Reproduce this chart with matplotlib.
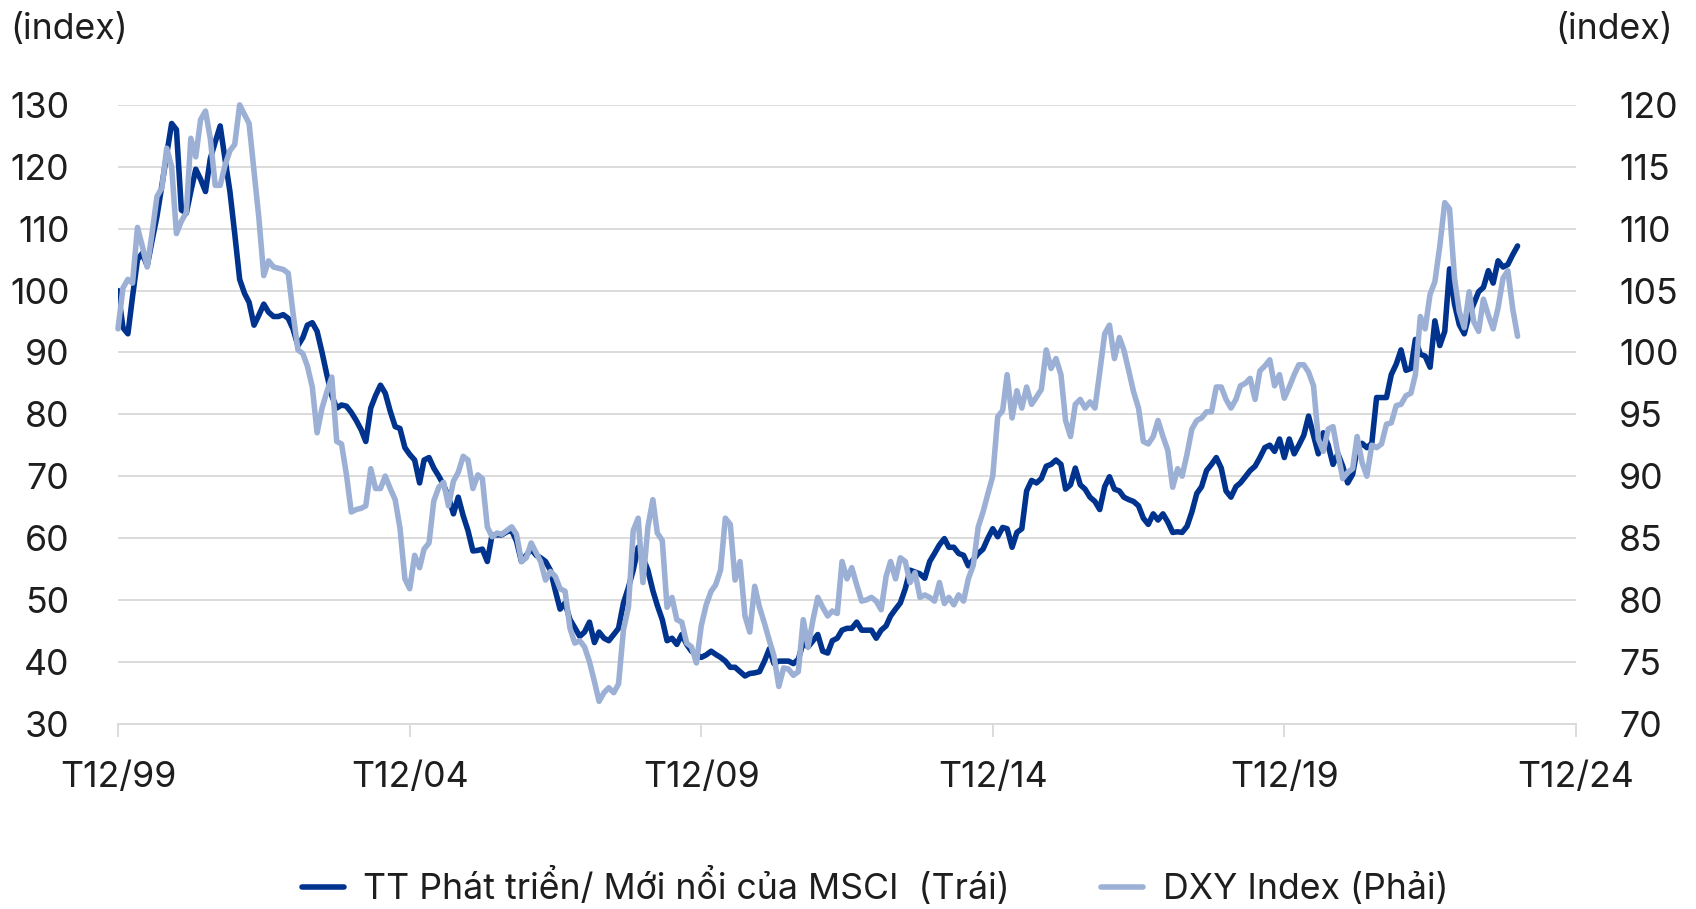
import matplotlib
matplotlib.use("Agg")
import matplotlib.pyplot as plt
import pandas as pd

plt.rcParams['font.family'] = ['Inter', 'DejaVu Sans']

# ---------------- data (monthly, Dec 1999 .. Dec 2023) ----------------
start_month = "1999-12-01"

msci_dm_em = [
    100, 94, 93, 99, 105, 106, 104, 108, 112, 117, 122, 127,
    126, 113, 112.5, 116, 119.6, 118, 116, 121.3, 124, 126.6, 121.3, 116,
    109.2, 101.8, 99.5, 98.1, 94.4, 96, 97.8, 96.5, 95.8, 95.8, 96.1, 95.5,
    93.8, 91.1, 92.4, 94.4, 94.8, 93.4, 90, 86.4, 83, 81, 81.5, 81.3,
    80.3, 79, 77.5, 75.6, 81, 83, 84.7, 83.4, 80.5, 78, 77.7, 74.6,
    73.5, 72.6, 68.9, 72.6, 73, 71.3, 70, 68.6, 66.6, 63.9, 66.6, 63.6,
    61.2, 57.9, 58, 58.2, 56.2, 60.5, 60.5, 60.5, 61, 61.2, 59.5, 56.2,
    57.2, 58.2, 57.2, 56.8, 56.2, 54.8, 51.5, 48.5, 49.5, 46.8, 45.5, 44.1,
    44.8, 46.4, 43.1, 44.8, 43.8, 43.4, 44.4, 45.4, 49.5, 52, 54.8, 58.5,
    56.8, 54.8, 51.5, 49.1, 46.8, 43.4, 43.8, 42.8, 44.4, 42.8, 41.7, 41.2,
    40.7, 41.1, 41.7, 41.2, 40.7, 40.1, 39.1, 39.1, 38.4, 37.7, 38.1, 38.2,
    38.4, 40.1, 42.1, 39.7, 40.1, 40.1, 40.1, 39.7, 40.4, 43.1, 42.4, 43.4,
    44.4, 41.7, 41.4, 43.4, 43.8, 45.1, 45.4, 45.4, 46.4, 45.1, 45.1, 45.1,
    43.8, 45.1, 45.8, 47.4, 48.5, 49.5, 51.8, 54.8, 54.5, 54.2, 53.5, 56.2,
    57.5, 58.9, 59.9, 58.5, 58.5, 57.5, 57.2, 55.5, 56.5, 57.5, 58.2, 60,
    61.5, 60.2, 61.7, 61.5, 58.5, 60.9, 61.5, 67.6, 69.3, 68.9, 69.6, 71.6,
    71.9, 72.6, 71.9, 67.9, 68.6, 71.3, 68.6, 67.9, 66.6, 65.9, 64.6, 68.3,
    69.9, 67.9, 67.6, 66.6, 66.2, 65.9, 65.2, 63.2, 62.2, 63.9, 62.9, 63.9,
    62.6, 60.9, 61, 60.9, 61.9, 64.2, 67.2, 68.3, 70.9, 71.9, 73, 71.3,
    67.6, 66.6, 68.3, 68.9, 69.9, 70.9, 71.6, 73, 74.6, 75, 74, 76,
    73, 76, 73.6, 75, 76.6, 79.7, 76.6, 73.6, 77, 75, 71.9, 73.6,
    71.6, 68.9, 70.3, 74.3, 75.3, 74.6, 75.3, 82.7, 82.7, 82.7, 86.4, 88.1,
    90.4, 87.1, 87.4, 92.1, 89.7, 89.4, 87.6, 95.1, 91.1, 93.4, 103.5, 97.8,
    94.5, 93, 96.1, 97.8, 99.8, 100.5, 103.2, 101.2, 104.8, 103.8, 104.2, 105.8,
    107.2,
]

dxy = [
    101.9, 105.2, 105.9, 105.6, 110.1, 108.6, 106.9, 109.6, 112.6, 113.3, 116.5, 115,
    109.6, 110.6, 111.3, 117.3, 115.8, 118.8, 119.5, 117.3, 113.5, 113.5, 115.1, 116.3,
    116.8, 120, 119.2, 118.5, 114.6, 110.9, 106.2, 107.4, 106.9, 106.8, 106.7, 106.4,
    103.2, 100.2, 99.9, 98.9, 97.2, 93.5, 95.5, 96.8, 98, 92.8, 92.6, 90.1,
    87.1, 87.3, 87.4, 87.6, 90.6, 89, 89, 90, 89, 88.1, 85.8, 81.7,
    80.9, 83.6, 82.6, 84.1, 84.6, 88, 89.1, 89.5, 87.6, 89.6, 90.3, 91.6,
    91.3, 89, 90.1, 89.8, 85.9, 85.1, 85.4, 85.3, 85.6, 85.9, 85.3, 83.1,
    83.4, 84.6, 83.8, 83.1, 81.6, 82.3, 81.9, 80.9, 80.7, 77.7, 76.5, 76.7,
    76.2, 75, 73.4, 71.8, 72.5, 72.9, 72.5, 73.2, 77.6, 79.4, 85.6, 86.6,
    81.4, 85.9, 88.1, 85.4, 84.8, 79.4, 80.2, 78.4, 78.2, 76.5, 76.2, 74.9,
    77.9, 79.6, 80.7, 81.2, 82.4, 86.6, 86.1, 81.6, 83.1, 78.7, 77.4, 81.1,
    79.4, 78.1, 76.7, 75.5, 73, 74.5, 74.4, 73.9, 74.2, 78.4, 76.2, 78.4,
    80.2, 79.4, 78.7, 79.1, 78.9, 83.1, 81.7, 82.6, 81.2, 79.9, 80, 80.2,
    79.9, 79.2, 81.9, 83.1, 81.7, 83.4, 83.1, 81.4, 82.2, 80.2, 80.4, 80.2,
    79.9, 81.4, 79.7, 80.2, 79.6, 80.4, 79.9, 81.7, 82.8, 85.9, 87.1, 88.6,
    90, 94.8, 95.3, 98.2, 94.7, 96.9, 95.5, 97.2, 95.8, 96.4, 97, 100.2,
    98.7, 99.5, 98.2, 94.5, 93.2, 95.8, 96.2, 95.5, 96, 95.5, 98.4, 101.5,
    102.2, 99.5, 101.2, 100.2, 98.5, 96.8, 95.5, 92.8, 92.6, 93.2, 94.5, 93.2,
    92.1, 89.1, 90.6, 90, 91.8, 93.8, 94.5, 94.7, 95.2, 95.2, 97.2, 97.2,
    96.2, 95.5, 96.2, 97.3, 97.5, 97.9, 96.2, 98.5, 98.9, 99.4, 97.3, 98.2,
    96.3, 97.2, 98.2, 99, 99, 98.4, 97.3, 93, 92, 93.8, 94, 91.8,
    89.8, 90.3, 90.6, 93.2, 91.1, 90, 92.5, 92.3, 92.6, 94.2, 94.3, 95.7,
    95.8, 96.5, 96.7, 98.2, 102.9, 101.9, 104.7, 105.7, 108.6, 112.1, 111.6, 106,
    103.3, 102, 104.9, 102.5, 101.7, 104.3, 103, 101.9, 103.6, 106, 106.6, 103.5,
    101.3,
]

x_tick_dates = ["1999-12-01", "2004-12-01", "2009-12-01", "2014-12-01", "2019-12-01", "2024-12-01"]
x_tick_labels = ["T12/99", "T12/04", "T12/09", "T12/14", "T12/19", "T12/24"]
left_ticks = [30, 40, 50, 60, 70, 80, 90, 100, 110, 120, 130]
right_ticks = [70, 75, 80, 85, 90, 95, 100, 105, 110, 115, 120]

label_msci = "TT Phát triển/ Mới nổi của MSCI  (Trái)"
label_dxy = "DXY Index (Phải)"

# ---------------- plotting ----------------
dark = "#00338D"
light = "#9CB0D6"
grid_c = "#D9D9D9"
text_c = "#1E1E1E"
fs = 25.7
lw = 4.0

dates = pd.date_range(start_month, periods=len(msci_dm_em), freq="MS")

fig = plt.figure(figsize=(16.96, 9.09), dpi=100)
W, H = 1696, 909
left_px, right_px, top_px, bot_px = 118, 1576, 104.9, 723.6
ax = fig.add_axes([left_px / W, 1 - bot_px / H, (right_px - left_px) / W, (bot_px - top_px) / H])
ax2 = ax.twinx()

l1, = ax.plot(dates, msci_dm_em, color=dark, lw=lw, solid_joinstyle="round",
              solid_capstyle="round", zorder=3)
l2, = ax2.plot(dates, dxy, color=light, lw=lw, solid_joinstyle="round",
               solid_capstyle="round", zorder=3, clip_on=False)

ax.set_xlim(pd.Timestamp(x_tick_dates[0]), pd.Timestamp(x_tick_dates[-1]))
ax.set_ylim(30, 130)
ax2.set_ylim(70, 120)

ax.set_yticks(left_ticks)
ax2.set_yticks(right_ticks)
ax.set_xticks([pd.Timestamp(d) for d in x_tick_dates])
ax.set_xticklabels(x_tick_labels)

ax.grid(axis="y", color=grid_c, lw=1.3, zorder=0)
ax.set_axisbelow(True)

for a in (ax, ax2):
    for s in ("top", "left", "right"):
        a.spines[s].set_visible(False)
    a.spines["bottom"].set_color(grid_c)
    a.spines["bottom"].set_linewidth(1.3)
ax2.spines["bottom"].set_visible(False)

ax.tick_params(axis="y", length=0, pad=35, labelsize=fs, labelcolor=text_c)
ax2.tick_params(axis="y", length=0, pad=31, labelsize=fs, labelcolor=text_c)
ax.tick_params(axis="x", length=9, width=1.3, color=grid_c, pad=18,
               labelsize=fs, labelcolor=text_c)

fig.text(10 / W, 1 - 29 / H, "(index)", fontsize=fs, color=text_c, ha="left", va="center")
fig.text(1673 / W, 1 - 29 / H, "(index)", fontsize=fs, color=text_c, ha="right", va="center")

fig.legend([l1, l2], [label_msci, label_dxy], loc="center",
           bbox_to_anchor=(875 / W, 1 - 887 / H), ncol=2, frameon=False,
           fontsize=fs, handlelength=1.18, handletextpad=0.55, columnspacing=2.55,
           labelcolor=text_c)

fig.savefig("out.png", dpi=100)
